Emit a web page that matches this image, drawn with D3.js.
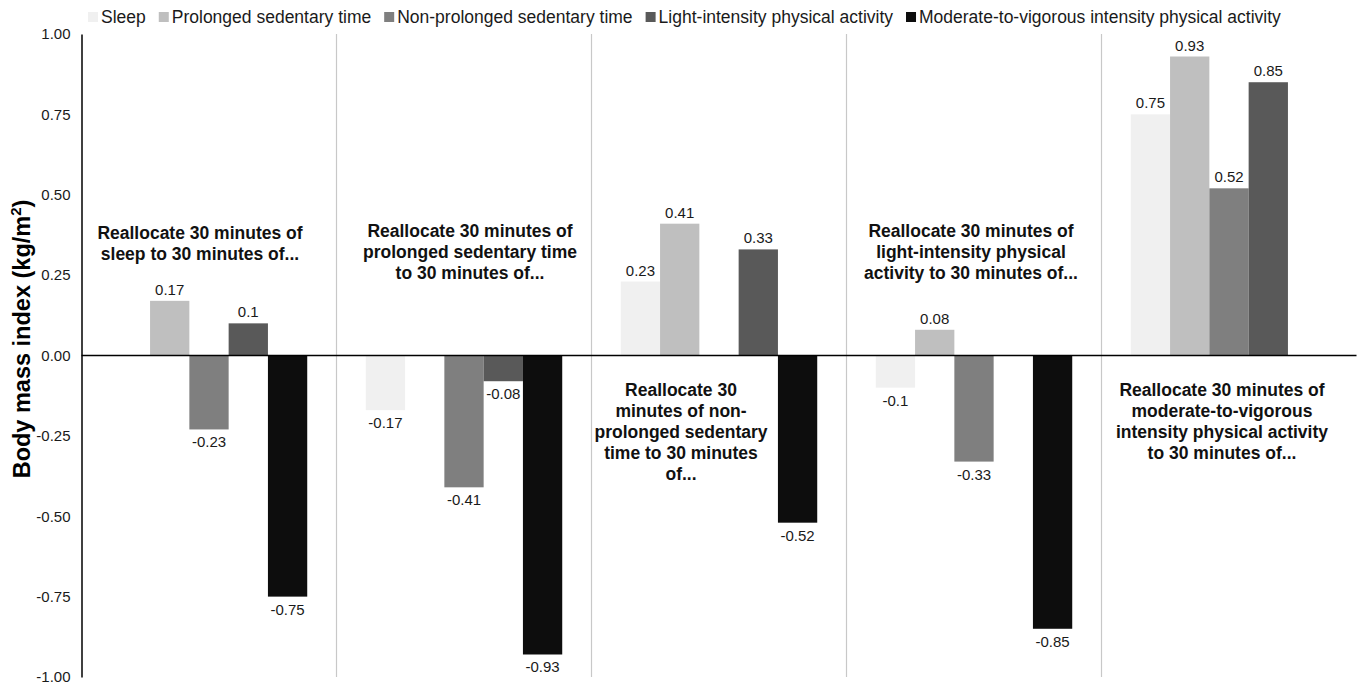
<!DOCTYPE html>
<html>
<head>
<meta charset="utf-8">
<script src="https://cdn.jsdelivr.net/npm/d3@7"></script>
<style>
  html, body { margin: 0; padding: 0; background: #fff; }
  svg { display: block; font-family: "Liberation Sans", Arial, sans-serif; }
</style>
</head>
<body>
<svg id="chart" width="1360" height="685"></svg>
<script>
// ---------- data ----------
const groups = ["sleep", "prolonged", "nonprolonged", "light", "mvpa"];
const seriesNames = [
  "Sleep",
  "Prolonged sedentary time",
  "Non-prolonged sedentary time",
  "Light-intensity physical activity",
  "Moderate-to-vigorous intensity physical activity"
];
const sleepValues        = [null, -0.17, 0.23, -0.1, 0.75];
const prolongedValues    = [0.17, null, 0.41, 0.08, 0.93];
const nonProlongedValues = [-0.23, -0.41, null, -0.33, 0.52];
const lightValues        = [0.1, -0.08, 0.33, null, 0.85];
const mvpaValues         = [-0.75, -0.93, -0.52, -0.85, null];
const tickValues = [-1, -0.75, -0.5, -0.25, 0, 0.25, 0.5, 0.75, 1];
const tickLabels = ["-1.00", "-0.75", "-0.50", "-0.25", "0.00", "0.25", "0.50", "0.75", "1.00"];
const groupTitles = [
  ["Reallocate 30 minutes of", "sleep to 30 minutes of..."],
  ["Reallocate 30 minutes of", "prolonged sedentary time", "to 30 minutes of..."],
  ["Reallocate 30", "minutes of non-", "prolonged sedentary", "time to 30 minutes", "of..."],
  ["Reallocate 30 minutes of", "light-intensity physical", "activity to 30 minutes of..."],
  ["Reallocate 30 minutes of", "moderate-to-vigorous", "intensity physical activity", "to 30 minutes of..."]
];
const yTitle = "Body mass index (kg/m";
const yTitleSup = "2";

// ---------- layout / style ----------
const seriesValues = [sleepValues, prolongedValues, nonProlongedValues, lightValues, mvpaValues];
const colors = ["#f0f0f0", "#bfbfbf", "#7f7f7f", "#595959", "#0d0d0d"];
const titleLayout = [ // dx from group center, first baseline y (px)
  {dx: -9, y: 239}, {dx: 6, y: 237}, {dx: -38, y: 396}, {dx: -3, y: 237}, {dx: -7, y: 396}
];
const plot = {left: 81.5, right: 1356.5, top: 34, bottom: 677};

const svg = d3.select("#chart");

const x0 = d3.scaleBand().domain(groups).range([plot.left, plot.right]).padding(0);
const x1 = d3.scaleBand().domain(d3.range(seriesNames.length))
  .range([0, x0.bandwidth()]).paddingInner(0).paddingOuter(0.745);
const y = d3.scaleLinear().domain([-1, 1]).range([plot.bottom, plot.top]);

// separators
svg.append("g").selectAll("line").data(groups.slice(1)).join("line")
  .attr("x1", d => x0(d)).attr("x2", d => x0(d))
  .attr("y1", y(1)).attr("y2", y(-1))
  .attr("stroke", "#c8c8c8").attr("stroke-width", 1.2);

// bars
const barData = [];
groups.forEach((g, gi) => {
  seriesValues.forEach((vals, si) => {
    const v = vals[gi];
    if (v !== null) barData.push({g, si, v});
  });
});
svg.append("g").selectAll("rect").data(barData).join("rect")
  .attr("x", d => x0(d.g) + x1(d.si))
  .attr("width", x1.bandwidth())
  .attr("y", d => y(Math.max(0, d.v)))
  .attr("height", d => Math.abs(y(d.v) - y(0)))
  .attr("fill", d => colors[d.si]);

// value labels
svg.append("g").selectAll("text").data(barData).join("text")
  .attr("x", d => x0(d.g) + x1(d.si) + x1.bandwidth() / 2)
  .attr("y", d => d.v >= 0 ? y(d.v) - 6 : y(d.v) + 18)
  .attr("text-anchor", "middle")
  .attr("font-size", 15)
  .attr("fill", "#1a1a1a")
  .text(d => String(d.v));

// y axis
const yAxis = d3.axisLeft(y).tickValues(tickValues)
  .tickFormat((d, i) => tickLabels[i]).tickSize(0).tickPadding(11);
const ag = svg.append("g").attr("transform", `translate(${plot.left},0)`).call(yAxis);
ag.select(".domain").attr("stroke", "#000").attr("stroke-width", 1.5);
ag.selectAll("text").attr("font-size", 15).attr("fill", "#1a1a1a")
  .attr("font-family", "'Liberation Sans', Arial, sans-serif");

// zero line
svg.append("line")
  .attr("x1", plot.left).attr("x2", plot.right)
  .attr("y1", y(0)).attr("y2", y(0))
  .attr("stroke", "#000").attr("stroke-width", 1.5);

// group titles
groupTitles.forEach((lines, gi) => {
  const cx = x0(groups[gi]) + x0.bandwidth() / 2 + titleLayout[gi].dx;
  const t = svg.append("text")
    .attr("text-anchor", "middle")
    .attr("font-size", 17.5).attr("font-weight", "bold").attr("fill", "#111");
  lines.forEach((ln, li) => {
    t.append("tspan").attr("x", cx).attr("y", titleLayout[gi].y + li * 21).text(ln);
  });
});

// y title
const yt = svg.append("text")
  .attr("transform", `translate(30,339) rotate(-90)`)
  .attr("text-anchor", "middle")
  .attr("font-size", 23.5).attr("font-weight", "bold").attr("fill", "#000");
yt.append("tspan").text(yTitle);
yt.append("tspan").attr("font-size", 15).attr("dy", -9).text(yTitleSup);
yt.append("tspan").attr("dy", 9).text(")");

// legend
const lg = svg.append("g");
let lx = 88;
seriesNames.forEach((name, i) => {
  lg.append("rect").attr("x", lx).attr("y", 12).attr("width", 10).attr("height", 10)
    .attr("fill", colors[i]);
  const t = lg.append("text").attr("x", lx + 13).attr("y", 22.5)
    .attr("font-size", 17.5).attr("fill", "#1a1a1a").text(name);
  lx += 13 + t.node().getComputedTextLength() + 13;
});
</script>
</body>
</html>
